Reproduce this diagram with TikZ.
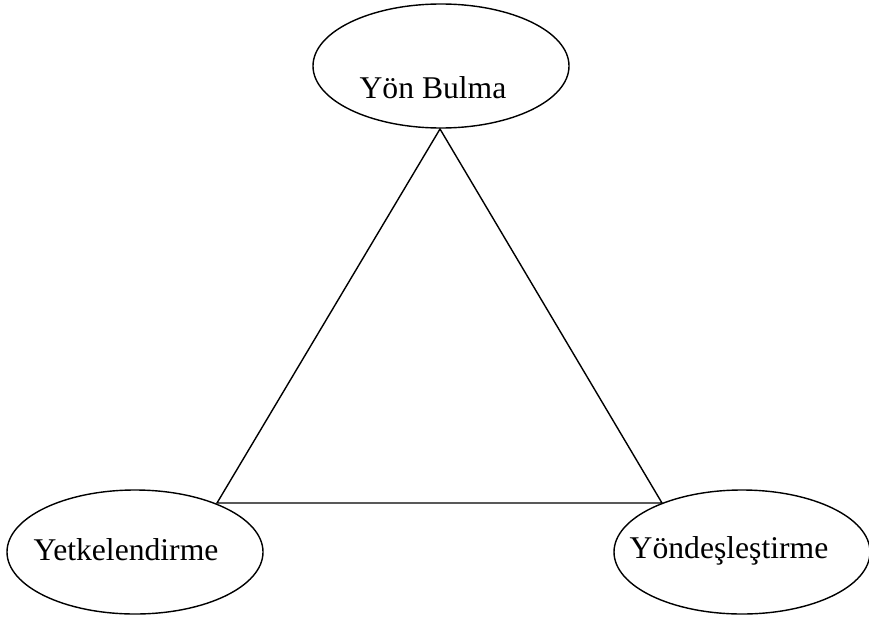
\documentclass[tikz,border=0pt]{standalone}
\usepackage{fontspec}
\setmainfont{Liberation Serif}
\usetikzlibrary{shapes.geometric}

\begin{document}
\begin{tikzpicture}[x=0.2mm,y=-0.2mm,
    oval/.style={draw, ellipse, line width=0.8pt, inner sep=0pt,
                 minimum width=5.12cm, minimum height=2.48cm},
    lbl/.style={inner sep=0pt, anchor=base, font=\fontsize{18}{20}\selectfont}]
    \useasboundingbox (0,0) rectangle (869,617);

    % Ellipses
    \node[oval] (bulma) at (441,66) {};
    \node[oval] (yetki) at (135,552) {};
    \node[oval] (yonde) at (742,552) {};

    % Labels
    \node[lbl] (bulmat) at (433,98) {Yön Bulma};
    \node[lbl] (yetkit) at (126,560) {Yetkelendirme};
    \node[lbl] (yondet) at (729,558) {Yöndeşleştirme};

    % Triangle
    \coordinate (tepe) at (440,129);
    \coordinate (sol) at (217,503);
    \coordinate (sag) at (662,503);
    \draw[line width=0.8pt] (tepe) -- (sol) -- (sag) -- cycle;
\end{tikzpicture}
\end{document}
